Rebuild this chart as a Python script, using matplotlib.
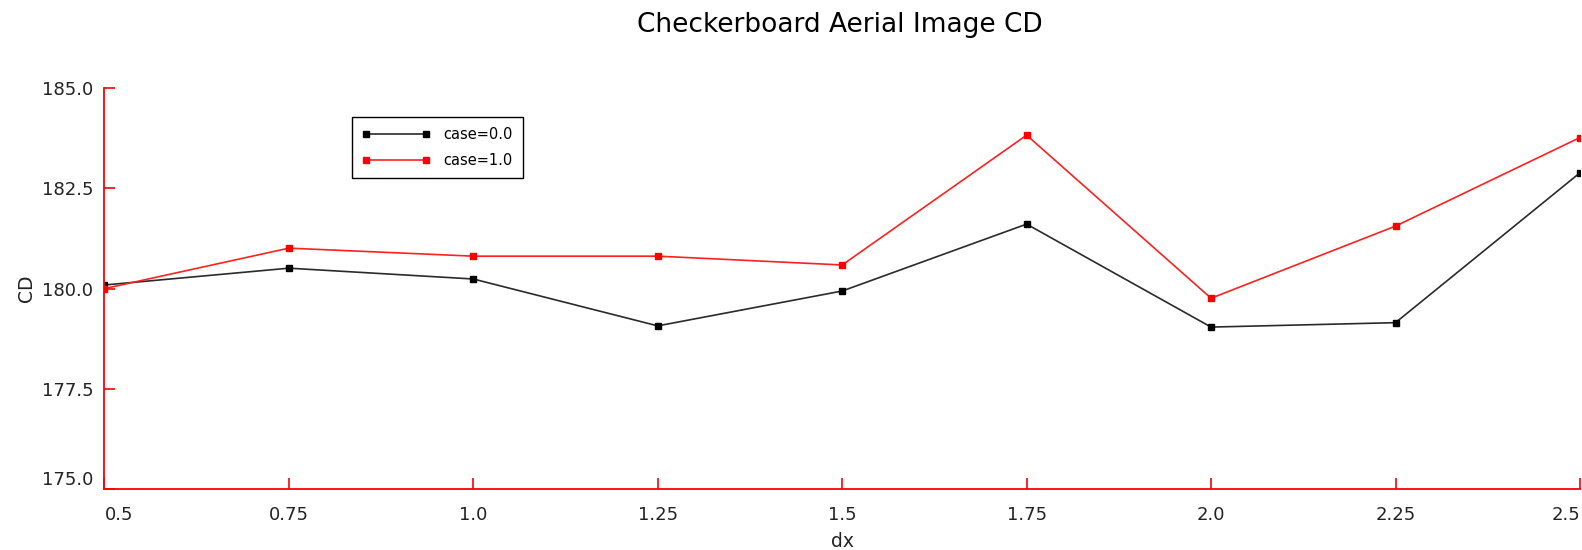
import matplotlib
matplotlib.use("Agg")
import matplotlib.pyplot as plt

dx = [0.5, 0.75, 1.0, 1.25, 1.5, 1.75, 2.0, 2.25, 2.5]
cd_case0 = [180.09, 180.51, 180.24, 179.07, 179.94, 181.61, 179.04, 179.15, 182.89]
cd_case1 = [180.0, 181.01, 180.81, 180.81, 180.59, 183.83, 179.76, 181.56, 183.77]
yticks = [175.0, 177.5, 180.0, 182.5, 185.0]

fig = plt.figure(figsize=(15.82, 5.5), dpi=100)
ax = fig.add_axes([0.066, 0.111, 0.9327, 0.7285])

ax.plot(dx, cd_case0, color="#2a2a2a", lw=1.2, marker="s", ms=5,
        mfc="black", mec="black", label="case=0.0")
ax.plot(dx, cd_case1, color="#ff2020", lw=1.2, marker="s", ms=5,
        mfc="red", mec="red", label="case=1.0")

ax.set_xlim(0.5, 2.5)
ax.set_ylim(175, 185)
ax.set_xticks(dx)
ax.set_xticklabels([str(v) for v in dx])
ax.set_yticks(yticks)
ax.set_yticklabels(["%.1f" % v for v in yticks])

for side in ("top", "right"):
    ax.spines[side].set_visible(False)
for side in ("left", "bottom"):
    ax.spines[side].set_color("red")
    ax.spines[side].set_linewidth(1.3)

ax.tick_params(axis="both", direction="in", length=8, width=1.2,
               color="red", labelsize=13, labelcolor="#222222")
ax.tick_params(axis="x", pad=12)
ax.tick_params(axis="y", pad=8)

# keep end labels inside the axes span
xl = ax.get_xticklabels()
xl[0].set_ha("left")
xl[-1].set_ha("right")
ax.get_yticklabels()[0].set_va("bottom")

ax.set_xlabel("dx", fontsize=13.5, color="#222222", labelpad=6)
ax.set_ylabel("CD", fontsize=13.5, color="#222222", labelpad=4)
fig.text(0.531, 0.955, "Checkerboard Aerial Image CD", fontsize=19,
         ha="center", va="center", color="black")

leg = ax.legend(loc="upper left", bbox_to_anchor=(0.1677, 0.928),
                borderaxespad=0, fontsize=10.5, numpoints=2, handlelength=4.7,
                handletextpad=0.9, labelspacing=0.75, borderpad=0.7,
                fancybox=False, framealpha=1, edgecolor="black")
leg.get_frame().set_linewidth(1.0)

fig.savefig("out.png", dpi=100)
